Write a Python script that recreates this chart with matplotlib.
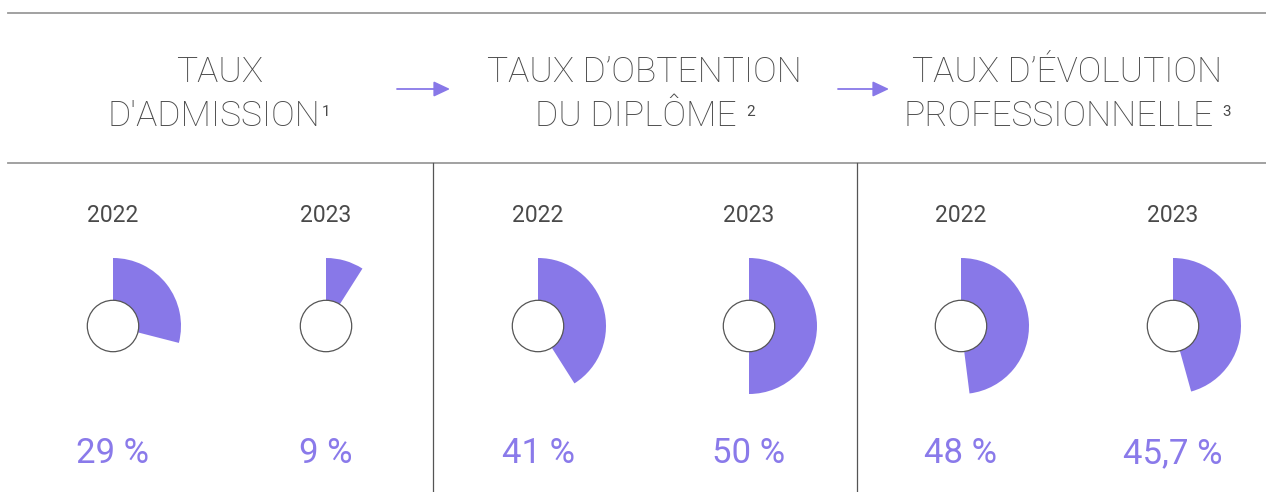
import matplotlib
matplotlib.use("Agg")
import matplotlib.pyplot as plt
from matplotlib.patches import Wedge, Circle

# data
titles_l1 = ["TAUX", "TAUX D\u2019OBTENTION", "TAUX D\u2019\u00c9VOLUTION"]
titles_l2 = ["D'ADMISSION", "DU DIPL\u00d4ME", "PROFESSIONNELLE"]
notes = ["1", "2", "3"]
note_gap = [2, 9, 9]
years = ["2022", "2023"]
values = [[29, 9], [41, 50], [48, 45.7]]
labels = [["29 %", "9 %"], ["41 %", "50 %"], ["48 %", "45,7 %"]]

purple = "#8878e8"
purple_txt = "#8a7aea"
grey = "#4a4a4a"

panel_x = [220, 644, 1067]
line2_x = [213.5, 636, 1058.5]
pie_x = [[113, 326], [538, 749], [961, 1173]]
pie_y = 326
R = 68
r = 25.7

fig = plt.figure(figsize=(12.66, 4.92), dpi=100)
ax = fig.add_axes([0, 0, 1, 1])
ax.set_xlim(0, 1266)
ax.set_ylim(492, 0)
ax.axis("off")

# frame lines
ax.plot([8, 1266], [12.5, 12.5], color="#9a9a9a", lw=1.3)
ax.plot([8, 1266], [162.5, 162.5], color="#9a9a9a", lw=1.3)
for xv in [432.5, 856.5]:
    ax.plot([xv, xv], [163, 492], color="#555555", lw=0.9)

font = ["Roboto", "DejaVu Sans"]

for i in range(3):
    ax.text(panel_x[i], 82, titles_l1[i], ha="center", va="baseline",
            fontsize=25.5, family=font, weight="light", color=grey)
    t2 = ax.text(line2_x[i], 126, titles_l2[i], ha="center", va="baseline",
                 fontsize=25.5, family=font, weight="light", color=grey)
    ax.annotate(notes[i], xy=(1.0, 115.5), xycoords=(t2, "data"),
                xytext=(note_gap[i] * 0.72, 0), textcoords="offset points",
                ha="left", va="baseline", fontsize=11, family=font,
                color=grey)
    for j in range(2):
        cx = pie_x[i][j]
        ax.text(cx, 222, years[j], ha="center", va="baseline",
                fontsize=16.5, family=font, color=grey)
        v = values[i][j]
        ax.add_patch(Wedge((cx, pie_y), R, 270, 270 + 360 * v / 100,
                           facecolor=purple, edgecolor="none"))
        ax.add_patch(Circle((cx, pie_y), r, facecolor="white",
                            edgecolor="#555555", lw=0.9, zorder=3))
        ax.text(cx, 463, labels[i][j], ha="center", va="baseline",
                fontsize=25, family=font, color=purple_txt)

# arrows between headers
for x0, x1 in [(397, 450), (838, 889)]:
    ax.annotate("", xy=(x1, 89), xytext=(x0, 89),
                arrowprops=dict(arrowstyle="-|>,head_length=0.7,head_width=0.33",
                                color=purple, lw=1.3, mutation_scale=14,
                                shrinkA=0, shrinkB=0))

fig.savefig("out.png", dpi=100)
